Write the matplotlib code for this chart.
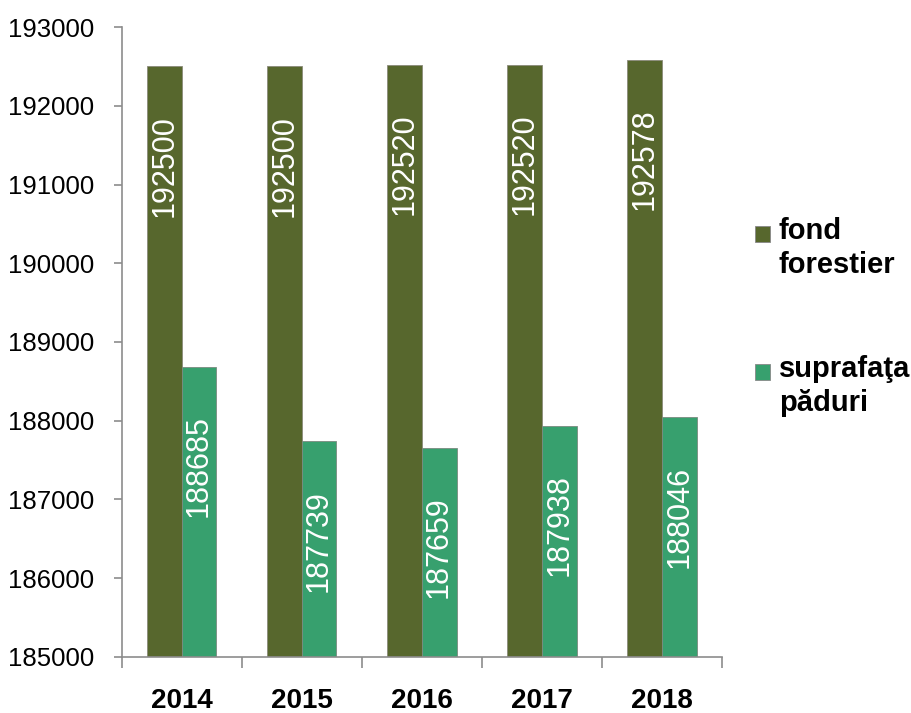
import matplotlib
matplotlib.use("Agg")
import matplotlib.pyplot as plt
from matplotlib.patches import Rectangle
import numpy as np

plt.rcParams['font.family'] = ['Liberation Sans', 'DejaVu Sans']

years = ['2014', '2015', '2016', '2017', '2018']
fond_forestier = [192500, 192500, 192520, 192520, 192578]
suprafata_paduri = [188685, 187739, 187659, 187938, 188046]
series_names = ['fond\nforestier', 'suprafaţa\npăduri']
colors = ['#57672D', '#37A06E']

fig = plt.figure(figsize=(9.12, 7.13), dpi=100)
ax = fig.add_axes([0.1334, 0.0786, 0.658, 0.8835])

x = np.arange(len(years))
w = 0.29
ax.bar(x - w/2, np.array(fond_forestier) - 185000, w, bottom=185000,
       color=colors[0], edgecolor='#8a8a7a', linewidth=0.6)
ax.bar(x + w/2, np.array(suprafata_paduri) - 185000, w, bottom=185000,
       color=colors[1], edgecolor='#7a8a80', linewidth=0.6)

for xs, vals in ((x - w/2, fond_forestier), (x + w/2, suprafata_paduri)):
    for xi, v in zip(xs, vals):
        ax.annotate(str(v), (xi, v), xytext=(0, -35), textcoords='offset points',
                    rotation=90, ha='center', va='top', color='white', fontsize=22)

ax.set_ylim(185000, 193000)
ax.set_yticks(np.arange(185000, 193001, 1000))
ax.set_xlim(-0.5, len(years) - 0.5)
ax.set_xticks(x)
ax.set_xticklabels(years, fontsize=20, fontweight='bold')
ax.set_xticks(np.arange(-0.5, len(years), 1), minor=True)
ax.tick_params(axis='x', which='major', length=0, pad=22)
ax.tick_params(axis='x', which='minor', length=8, color='#8c8c8c', width=1.2)
ax.tick_params(axis='y', labelsize=18.5, length=6, color='#8c8c8c', width=1.2, pad=14)
for s in ('top', 'right'):
    ax.spines[s].set_visible(False)
for s in ('left', 'bottom'):
    ax.spines[s].set_color('#8c8c8c')
    ax.spines[s].set_linewidth(1.2)

# manual legend
W, H = 912, 713
leg_y = [234, 372]  # pixel centre of first line
for name, col, yc in zip(series_names, colors, leg_y):
    fig.add_artist(Rectangle((755 / W, 1 - (yc + 8) / H), 15 / W, 16 / H,
                             transform=fig.transFigure, facecolor=col,
                             edgecolor='#888888', linewidth=0.6))
    fig.text(779 / W, 1 - (yc - 17) / H, name, ha='left', va='top',
             fontsize=21, fontweight='bold', linespacing=1.27)

fig.savefig('out.png', dpi=100)
